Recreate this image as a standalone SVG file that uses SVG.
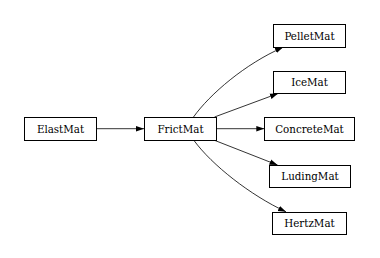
<svg xmlns="http://www.w3.org/2000/svg" width="380" height="258" viewBox="0 0 380 258">
  <style>
    .node rect { fill: #ffffff; stroke: #000000; stroke-width: 1; }
    .node text { font-family: "DejaVu Serif", "Liberation Serif", serif; font-size: 10.3px; fill: #000000; text-anchor: middle; }
    .edges path { fill: none; stroke: #000000; stroke-width: 0.8; marker-end: url(#arrow); }
  </style>
  <defs>
    <marker id="arrow" viewBox="0 0 10 10" refX="10" refY="5" markerWidth="8" markerHeight="8" markerUnits="userSpaceOnUse" orient="auto">
      <path d="M0,1.5 L10,5 L0,8.5 Z" fill="#000000"/>
    </marker>
  </defs>
  <rect width="380" height="258" fill="#ffffff"/>

  <g class="edges">
    <path d="M97,128.7 L144,128.7"/>
    <path d="M193.5,117 C210,94 245,64 283,47.3"/>
    <path d="M214.5,117 L278,93.5"/>
    <path d="M217,128.7 L264.3,128.7"/>
    <path d="M215,140.5 L277.5,165"/>
    <path d="M194,140.5 C212,165 250,195 286,211.8"/>
  </g>

  <g id="ElastMat" class="node">
    <rect x="24.5" y="117.5" width="72" height="23"/>
    <text x="60.5" y="132.5">ElastMat</text>
  </g>
  <g id="FrictMat" class="node">
    <rect x="144.5" y="117.5" width="72" height="23"/>
    <text x="180.5" y="132.5">FrictMat</text>
  </g>
  <g id="PelletMat" class="node">
    <rect x="273.5" y="24.5" width="72" height="23"/>
    <text x="309.5" y="39.5">PelletMat</text>
  </g>
  <g id="IceMat" class="node">
    <rect x="273.5" y="71.5" width="72" height="22"/>
    <text x="309.5" y="86">IceMat</text>
  </g>
  <g id="ConcreteMat" class="node">
    <rect x="264.5" y="117.5" width="90" height="23"/>
    <text x="309.5" y="132.5">ConcreteMat</text>
  </g>
  <g id="LudingMat" class="node">
    <rect x="269.5" y="165.5" width="81" height="22"/>
    <text x="310" y="180">LudingMat</text>
  </g>
  <g id="HertzMat" class="node">
    <rect x="272.5" y="212.5" width="74" height="22"/>
    <text x="309.5" y="227">HertzMat</text>
  </g>
</svg>
